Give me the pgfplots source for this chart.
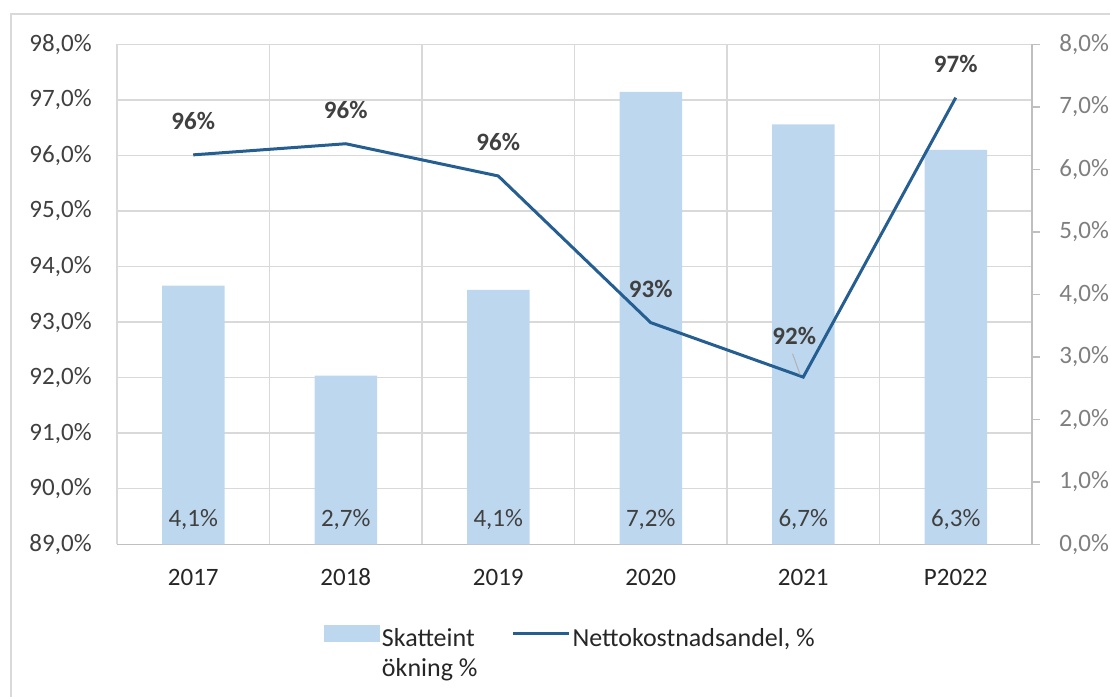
\documentclass[border=0pt]{standalone}
\usepackage{fontspec}
\setmainfont{Carlito}
\usepackage{pgfplots}
\usepackage{pgfplotstable}
\pgfplotsset{compat=1.18}

\definecolor{barblue}{HTML}{BDD7EE}
\definecolor{lineblue}{HTML}{255E91}
\definecolor{gridgray}{HTML}{D9D9D9}
\definecolor{axisgray}{HTML}{BFBFBF}
\definecolor{txtdark}{HTML}{404040}
\definecolor{txtgray}{HTML}{7F7F7F}

% x = category index, skatt = Skatteint. ökning (right axis), netto = Nettokostnadsandel (left axis)
% dx, dy = label offsets (pt)
\pgfplotstableread{
x  skatt  netto  dx    dy
0  4.14   96.01  0     17
1  2.70   96.21  0     17
2  4.07   95.63  0     17
3  7.24   92.99  0     17
4  6.72   92.01  -4.5  20.75
5  6.31   97.04  0     17
}\data

\pgfplotsset{
  base/.style={
    scale only axis, width=457.5pt, height=250pt,
    at={(58.5pt,76.35pt)}, anchor=south west,
    xmin=-0.5, xmax=5.5,
    /pgf/number format/assume math mode=true,
  },
}

\begin{document}
\fontsize{12.5}{15.5}\selectfont
\begin{tikzpicture}
\useasboundingbox (0,0) rectangle (555pt,348.5pt);
\draw[gridgray, line width=1pt] (5.5pt,0) -- (5.5pt,341.5pt) -- (555pt,341.5pt);

% grid, left scale and categories
\begin{axis}[base,
    ymin=89, ymax=98, ytick={89,...,98},
    axis x line*=bottom, axis y line*=left,
    y axis line style={draw=none},
    x axis line style={axisgray, line width=0.75pt},
    tick style={draw=none},
    ymajorgrids, major grid style={gridgray, line width=0.75pt},
    xtick={0,...,5}, xticklabels={2017,2018,2019,2020,2021,P2022},
    minor xtick={-0.5,0.5,...,5.5}, xminorgrids,
    minor grid style={gridgray, line width=0.75pt},
    yticklabel={\pgfmathprintnumber[fixed, fixed zerofill, precision=1, use comma]{\tick}\%},
    yticklabel style={anchor=east, inner sep=0pt, xshift=-12.5pt, text=txtdark},
    xticklabel style={anchor=center, yshift=-16.35pt, text=black!85},
]
\end{axis}

% bars, right scale
\begin{axis}[base,
    ymin=0, ymax=8, ytick={0,...,8},
    axis y line*=right, axis x line=none,
    y axis line style={axisgray, line width=0.75pt},
    ytick style={axisgray, line width=0.75pt},
    tick align=outside, major tick length=4pt,
    yticklabel={\pgfmathprintnumber[fixed, fixed zerofill, precision=1, use comma]{\tick}\%},
    yticklabel style={anchor=west, inner sep=0pt, xshift=9.5pt, text=txtgray},
]
\addplot[ybar, bar width=31.25pt, fill=barblue, draw=none] table[x=x, y=skatt]{\data};
\addplot[draw=none, mark=none, point meta=explicit,
    nodes near coords={\pgfmathprintnumber[fixed, precision=1, use comma]{\pgfplotspointmeta}\%},
    every node near coord/.append style={anchor=center, yshift=12.6pt, text=txtdark},
] table[x=x, y expr=0, meta=skatt]{\data};
\end{axis}

% line, left scale
\begin{axis}[base,
    ymin=89, ymax=98, hide axis, clip=false,
    legend columns=2,
    legend style={at={(axis description cs:0.226,-0.147)}, anchor=north west,
        draw=none, fill=none, inner sep=0pt, text=black!85,
        font=\fontsize{13}{15}\selectfont,
        nodes={inner sep=1pt},
        cells={anchor=north west, align=left},
        /tikz/every even column/.append style={column sep=16pt}},
]
\addlegendimage{legend image code/.code={
    \path[draw=none, fill=none] (0pt,-8pt) rectangle (27.5pt,4pt);
    \fill[barblue] (0pt,-7.5pt) rectangle (27.5pt,0.5pt);}}
\addlegendentry{Skatteint\\ökning \%}
\addplot[lineblue, line width=1.5pt, mark=none, point meta=explicit,
    legend image code/.code={
      \path[draw=none, fill=none] (0pt,-8pt) rectangle (28pt,4pt);
      \draw[lineblue, line width=1.5pt] (0pt,-3.5pt) -- (28pt,-3.5pt);},
    nodes near coords={\textbf{\pgfmathprintnumber[fixed, precision=0]{\pgfplotspointmeta}\%}},
    visualization depends on={\thisrow{dx} \as \dx},
    visualization depends on={\thisrow{dy} \as \dy},
    every node near coord/.append style={anchor=center, xshift=\dx pt, yshift=\dy pt, text=txtdark},
] table[x=x, y=netto, meta=netto]{\data};
\addlegendentry{Nettokostnadsandel, \%\\~}
\draw[gray!60, line width=0.5pt] (axis cs:3.93,92.43) -- (axis cs:3.98,92.05);
\end{axis}
\end{tikzpicture}
\end{document}
